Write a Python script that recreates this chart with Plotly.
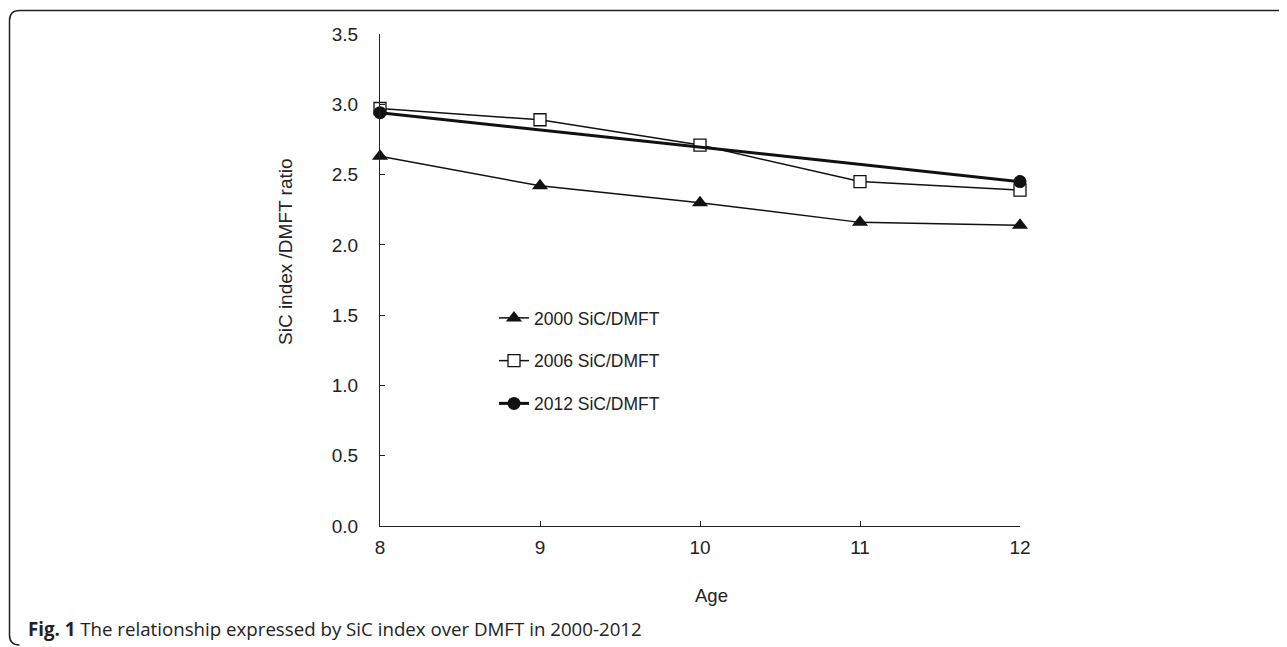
import plotly.graph_objects as go

ages = [8, 9, 10, 11, 12]
sic_2000 = [2.63, 2.42, 2.30, 2.16, 2.14]
sic_2006 = [2.97, 2.89, 2.71, 2.45, 2.39]
ages_2012 = [8, 12]
sic_2012 = [2.94, 2.45]
names = ["2000 SiC/DMFT", "2006 SiC/DMFT", "2012 SiC/DMFT"]
x_title = "Age"
y_title = "SiC index /DMFT ratio"
caption = "<b>Fig. 1</b> The relationship expressed by SiC index over DMFT in 2000-2012"

# reference pixel geometry (page offset by body margin)
O = 8
L, R, T, B = 380, 1020, 34, 526
W, H = 1287, 647

fig = go.Figure()
fig.add_trace(go.Scatter(x=ages, y=sic_2000, name=names[0], mode="lines+markers",
                         line=dict(color="#111", width=1.5),
                         marker=dict(symbol="triangle-up", size=14, color="#111"),
                         cliponaxis=False, legendgroup="a"))
fig.add_trace(go.Scatter(x=ages, y=sic_2006, name=names[1], mode="lines+markers",
                         line=dict(color="#111", width=1.5),
                         marker=dict(symbol="square", size=12, color="white",
                                     line=dict(color="#111", width=1.3)),
                         cliponaxis=False, legendgroup="b"))
fig.add_trace(go.Scatter(x=ages_2012, y=sic_2012, name=names[2], mode="lines+markers",
                         line=dict(color="#111", width=3),
                         marker=dict(symbol="circle", size=13, color="#111"),
                         cliponaxis=False, legendgroup="c"))

def px2x(p):
    return (p - L) / (R - L)

def px2y(p):
    return (B - p) / (B - T)

x0, x1, y0, y1, r = 9.5, 1300, 10.5, 645, 10
path = (f"M {px2x(x1)},{px2y(y0)} L {px2x(x0 + r)},{px2y(y0)} "
        f"Q {px2x(x0)},{px2y(y0)} {px2x(x0)},{px2y(y0 + r)} "
        f"L {px2x(x0)},{px2y(y1 - r)} Q {px2x(x0)},{px2y(y1)} {px2x(x0 + r)},{px2y(y1)}")

fig.update_layout(
    width=W - O, height=H - O,
    margin=dict(l=L - O, r=W - R, t=T - O, b=H - B),
    paper_bgcolor="white", plot_bgcolor="white",
    font=dict(family="Liberation Sans, Arial, sans-serif", size=19, color="#222"),
    showlegend=True,
    legend=dict(x=px2x(494), y=px2y(300), xanchor="left", yanchor="top",
                bgcolor="rgba(0,0,0,0)", tracegroupgap=17,
                font=dict(size=17.5, color="#222")),
    shapes=[dict(type="path", xref="paper", yref="paper", path=path,
                 line=dict(color="#222", width=1.5))],
    annotations=[
        dict(text=caption, xref="paper", yref="paper", x=px2x(26), y=px2y(628),
             xanchor="left", yanchor="middle", showarrow=False,
             font=dict(family="Open Sans, Noto Sans, sans-serif", size=18.7, color="#222")),
        dict(text=x_title, xref="paper", yref="paper", x=px2x(711), y=px2y(595),
             xanchor="center", yanchor="middle", showarrow=False,
             font=dict(size=18.5, color="#222")),
        dict(text=y_title, xref="paper", yref="paper", x=px2x(285), y=px2y(252),
             xanchor="center", yanchor="middle", showarrow=False, textangle=-90,
             font=dict(size=19, color="#222")),
    ],
)
fig.update_xaxes(range=[8, 12], dtick=1, tick0=8, showgrid=False, zeroline=False,
                 showline=True, linecolor="#222", linewidth=1.2,
                 ticks="inside", ticklen=5, tickcolor="#222", ticklabelstandoff=4)
fig.update_yaxes(range=[0, 3.5], dtick=0.5, tick0=0, tickformat=".1f", showgrid=False,
                 zeroline=False, showline=True, linecolor="#222", linewidth=1.2,
                 ticks="inside", ticklen=5, tickcolor="#222", ticklabelstandoff=17)

fig.write_html("out.html")
